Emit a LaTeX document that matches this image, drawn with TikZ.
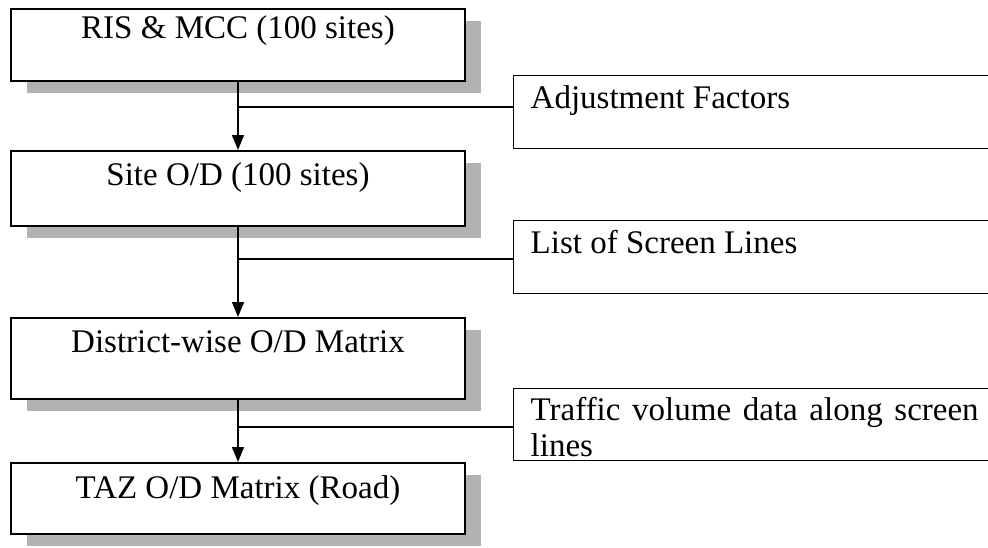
\documentclass[tikz,border=0pt]{standalone}
\usepackage{fontspec}
\setmainfont{Liberation Serif}
\usetikzlibrary{arrows.meta,shadows}

\tikzset{
  stagebox/.style={draw, line width=1.6pt, fill=white, inner sep=0pt,
    minimum width=454pt, align=center,
    drop shadow={shadow xshift=16pt, shadow yshift=-12pt, fill=black!30, opacity=1}},
  inputbox/.style={draw, line width=1.4pt, fill=white, inner xsep=17pt, inner ysep=0pt,
    text width=448pt, align=justify, anchor=north west},
  flow/.style={line width=1.5pt, -{Triangle[length=15pt,width=12pt]}},
  feed/.style={line width=1.2pt}
}

\begin{document}
\begin{tikzpicture}[x=1pt,y=-1pt,font=\fontsize{33}{36}\selectfont]
\useasboundingbox (0,0) rectangle (988,547);
\clip (0,0) rectangle (988,547);

% main processing chain
\node[stagebox, anchor=north, text height=30pt, text depth=42pt] (ris) at (238,8) {RIS \& MCC (100 sites)};
\node[stagebox, anchor=north, text height=35pt, text depth=40pt] (site) at (238,150) {Site O/D (100 sites)};
\node[stagebox, anchor=north, text height=35pt, text depth=46pt] (dist) at (238,317) {District-wise O/D Matrix};
\node[stagebox, anchor=north, text height=36pt, text depth=35pt] (taz) at (238,462) {TAZ O/D Matrix (Road)};

% inputs on the right
\node[inputbox, text height=33pt, text depth=40pt] (adj) at (513,75) {Adjustment Factors};
\node[inputbox, text height=33pt, text depth=40pt] (scr) at (513,220) {List of Screen Lines};
\node[inputbox, text height=32pt, text depth=40pt] (vol) at (513,388) {Traffic volume data along screen lines};

% arrows between stages
\draw[flow] (ris.south) -- (site.north);
\draw[flow] (site.south) -- (dist.north);
\draw[flow] (dist.south) -- (taz.north);

% junctions where the inputs join
\coordinate (j1) at (238,107);
\coordinate (j2) at (238,259);
\coordinate (j3) at (238,427);
\draw[feed] (j1) -- (j1 -| adj.west);
\draw[feed] (j2) -- (j2 -| scr.west);
\draw[feed] (j3) -- (j3 -| vol.west);
\end{tikzpicture}
\end{document}
